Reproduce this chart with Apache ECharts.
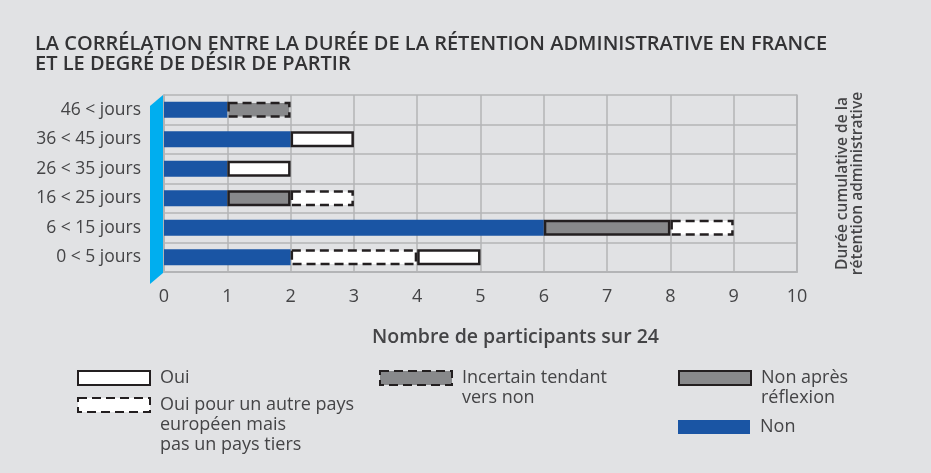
<!DOCTYPE html>
<html>
<head>
<meta charset="utf-8">
<style>
  html, body { margin: 0; padding: 0; background: #e1e2e4; }
  #chart { width: 931px; height: 473px; }
</style>
<script src="https://cdn.jsdelivr.net/npm/echarts@6/dist/echarts.min.js"></script>
</head>
<body>
<div id="chart"></div>
<script>
// données (du bas vers le haut)
var categories = ['0 < 5 jours', '6 < 15 jours', '16 < 25 jours', '26 < 35 jours', '36 < 45 jours', '46 < jours'];
var non = [2, 6, 1, 1, 2, 1];
var nonApresReflexion = [0, 2, 1, 0, 0, 0];
var incertain = [0, 0, 0, 0, 0, 1];
var ouiAutrePays = [2, 1, 1, 0, 0, 0];
var oui = [1, 0, 0, 1, 1, 0];
var xTicks = [0, 10, 1];

var FONT = '"Open Sans", Lato, sans-serif';
var DARK = '#231f20';
var GRAY = '#88898b';
var BLUE = '#1a55a4';
var TXT = '#444446';
var DASH = [9, 5];

var legendText = {
  'Oui': 'Oui',
  'Oui autre pays': 'Oui pour un autre pays\neuropéen mais\npas un pays tiers',
  'Incertain': 'Incertain tendant\nvers non',
  'Non après réflexion': 'Non après\nréflexion',
  'Non': 'Non'
};
var legendDashed = { 'Oui autre pays': true, 'Incertain': true };

function legendAt(name, left, iconTop) {
  var lh = 20;
  var lines = legendText[name].split('\n').length;
  // lignes vides devant pour que la première ligne reste alignée sur l'icône
  var lead = new Array(lines).join('\n');
  var blockH = (2 * lines - 1) * lh;
  return {
    orient: 'vertical',
    left: left,
    top: iconTop + 7 - blockH / 2,
    itemWidth: 72,
    itemHeight: 14,
    itemGap: 0,
    icon: 'rect',
    selectedMode: false,
    padding: 0,
    itemStyle: legendDashed[name] ? { borderType: DASH } : { borderType: 'solid' },
    data: [name],
    formatter: function (n) { return lead + legendText[n]; },
    textStyle: { fontFamily: FONT, fontSize: 18, lineHeight: lh, color: TXT, padding: [0, 0, 0, 5] }
  };
}

function barSeries(name, data, style) {
  return {
    name: name,
    type: 'bar',
    stack: 'total',
    barWidth: 16,
    data: data.map(function (v) { return v === 0 ? '-' : v; }),
    itemStyle: style
  };
}

var myChart = echarts.init(document.getElementById('chart'));
myChart.setOption({
  backgroundColor: '#e1e2e4',
  animation: false,
  textStyle: { fontFamily: FONT },
  title: {
    text: 'LA CORRÉLATION ENTRE LA DURÉE DE LA RÉTENTION ADMINISTRATIVE EN FRANCE\nET LE DEGRÉ DE DÉSIR DE PARTIR',
    left: 35,
    top: 34,
    padding: 0,
    textStyle: { fontFamily: FONT, fontSize: 20, fontWeight: 600, color: '#333335', lineHeight: 20.5 }
  },
  legend: [
    legendAt('Oui', 77, 371),
    legendAt('Oui autre pays', 77, 398),
    legendAt('Incertain', 379, 371),
    legendAt('Non après réflexion', 678, 371),
    legendAt('Non', 678, 420)
  ],
  grid: { left: 164, right: 134, top: 95, bottom: 201 },
  xAxis: {
    type: 'value',
    min: xTicks[0],
    max: xTicks[1],
    interval: xTicks[2],
    name: 'Nombre de participants sur 24',
    nameLocation: 'middle',
    nameGap: 55,
    nameTextStyle: { fontFamily: FONT, fontSize: 19.5, fontWeight: 600, color: TXT, padding: [0, 0, 0, 70] },
    axisLine: { show: true, lineStyle: { color: '#b3b4b6', width: 2 } },
    axisTick: { show: false },
    splitLine: { show: true, lineStyle: { color: '#b3b4b6', width: 1.5 } },
    axisLabel: { fontFamily: FONT, fontSize: 18, color: TXT, margin: 16 }
  },
  yAxis: [{
    type: 'category',
    data: categories,
    axisLine: { show: true, lineStyle: { color: '#b3b4b6', width: 2 } },
    axisTick: { show: false },
    splitLine: { show: true, interval: 0, lineStyle: { color: '#b3b4b6', width: 1.5 } },
    axisLabel: { fontFamily: FONT, fontSize: 17.5, color: TXT, margin: 23 }
  }, {
    type: 'category',
    position: 'right',
    data: categories,
    name: 'Durée cumulative de la\nrétention administrative',
    nameLocation: 'middle',
    nameRotate: 90,
    nameGap: 38,
    nameTextStyle: { fontFamily: FONT, fontSize: 15.5, fontWeight: 600, color: TXT, lineHeight: 15 },
    axisLine: { show: true, lineStyle: { color: '#b3b4b6', width: 1.5 } },
    axisTick: { show: false },
    axisLabel: { show: false },
    splitLine: { show: false }
  }],
  graphic: [{
    type: 'polygon',
    shape: { points: [[150, 106], [163, 95], [163, 273], [150, 284]] },
    style: { fill: '#00aeef' },
    z: 10
  }],
  series: [
    barSeries('Non', non, { color: BLUE }),
    barSeries('Non après réflexion', nonApresReflexion, { color: GRAY, borderColor: DARK, borderWidth: 2.5 }),
    barSeries('Incertain', incertain, { color: GRAY, borderColor: DARK, borderWidth: 2.5, borderType: DASH }),
    barSeries('Oui autre pays', ouiAutrePays, { color: '#ffffff', borderColor: DARK, borderWidth: 2.5, borderType: DASH }),
    barSeries('Oui', oui, { color: '#ffffff', borderColor: DARK, borderWidth: 2.5 })
  ]
});
</script>
</body>
</html>
